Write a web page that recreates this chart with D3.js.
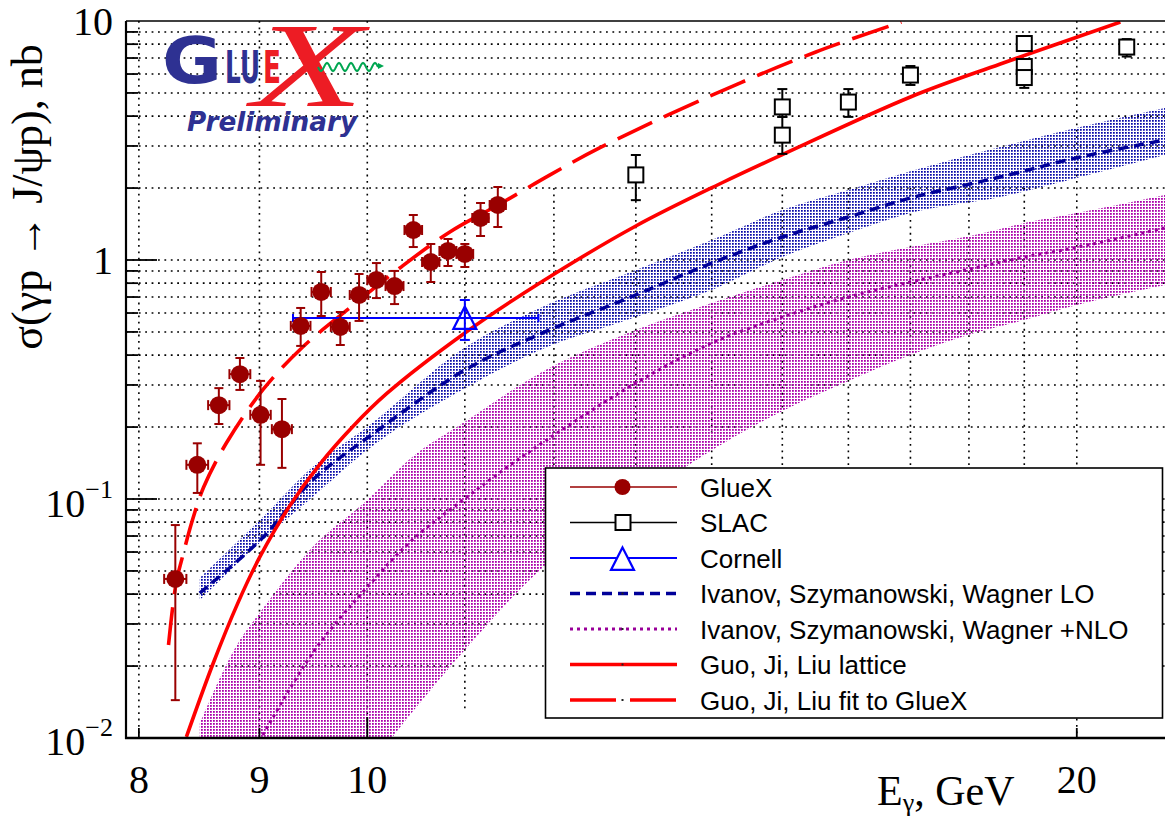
<!DOCTYPE html>
<html>
<head>
<meta charset="utf-8">
<script src="https://cdn.jsdelivr.net/npm/d3@7"></script>
<style>
  body { margin: 0; background: #ffffff; }
</style>
</head>
<body>
<div id="chart"></div>
<script>
// ---- Data (E in GeV, sigma in nb) ----

// GlueX points, with upper / lower ends of the error bars
var glueE     = [8.29, 8.47, 8.65, 8.83, 9.01, 9.20, 9.37, 9.56, 9.74, 9.92, 10.09, 10.27, 10.46, 10.64, 10.82, 11.00, 11.17, 11.36];
var glueSigma = [0.0463, 0.139, 0.247, 0.333, 0.225, 0.196, 0.530, 0.735, 0.525, 0.714, 0.825, 0.778, 1.335, 0.981, 1.091, 1.060, 1.499, 1.699];
var glueHi    = [0.0778, 0.171, 0.291, 0.389, 0.312, 0.262, 0.630, 0.891, 0.606, 0.874, 0.971, 0.900, 1.543, 1.167, 1.224, 1.167, 1.732, 2.02];
var glueLo    = [0.0144, 0.106, 0.206, 0.286, 0.139, 0.135, 0.437, 0.583, 0.441, 0.556, 0.693, 0.654, 1.133, 0.809, 0.944, 0.935, 1.26, 1.374];
var glueBinHalf = [0.09, 0.09, 0.09, 0.09, 0.09, 0.09, 0.09, 0.09, 0.09, 0.09, 0.09, 0.09, 0.09, 0.09, 0.09, 0.09, 0.09, 0.09];

// SLAC points
var slacE     = [13.0, 15.0, 15.0, 16.0, 17.0, 19.0, 19.0, 19.0, 21.0];
var slacSigma = [2.27, 4.37, 3.33, 4.58, 5.94, 8.05, 6.45, 5.80, 7.78];
var slacHi    = [2.75, 5.19, 3.97, 5.19, 6.48, 8.35, 6.93, 6.37, 8.40];
var slacLo    = [1.78, 3.97, 2.78, 3.97, 5.40, 7.80, 6.10, 5.25, 7.10];

// Cornell point
var cornellE     = [11.0];
var cornellSigma = [0.572];
var cornellHi    = [0.68];
var cornellLo    = [0.463];
var cornellEmin  = [9.30];
var cornellEmax  = [11.82];

// Ivanov, Szymanowski, Wagner LO: central curve and band
var loE     = [8.49, 9.03, 9.48, 10.0, 11.0, 11.84, 13.0, 14.0, 15.0, 16.0, 17.0, 18.56, 20.07, 21.8];
var loSigma = [0.0404, 0.069, 0.1201, 0.180, 0.3465, 0.4903, 0.714, 0.971, 1.248, 1.513, 1.817, 2.225, 2.698, 3.178];
var loBandE  = [8.49, 9.03, 9.48, 10.0, 11.0, 11.84, 13.0, 14.0, 15.0, 16.0, 17.0, 18.56, 20.07, 21.8];
var loBandHi = [0.0467, 0.0841, 0.1361, 0.2001, 0.43, 0.6298, 0.9082, 1.212, 1.619, 1.963, 2.35, 2.970, 3.601, 4.325];
var loBandLo = [0.0378, 0.0674, 0.1019, 0.1603, 0.29, 0.4201, 0.5775, 0.7489, 1.029, 1.297, 1.573, 1.835, 2.225, 2.750];

// Ivanov, Szymanowski, Wagner +NLO: central curve and band
var nloE     = [9.0, 9.48, 10.0, 10.45, 10.98, 11.53, 12.04, 13.0, 14.0, 15.0, 16.0, 17.0, 18.1, 19.0, 20.0, 21.8];
var nloSigma = [0.0097, 0.0227, 0.0428, 0.0674, 0.099, 0.1414, 0.189, 0.3058, 0.4494, 0.5775, 0.70, 0.809, 0.926, 1.029, 1.13, 1.361];
var nloBandE  = [8.49, 8.83, 9.0, 9.48, 10.0, 10.45, 10.98, 11.84, 13.0, 14.0, 15.0, 16.0, 17.0, 18.1, 19.0, 20.0, 21.8];
var nloBandHi = [0.0115, 0.0257, 0.0333, 0.063, 0.099, 0.150, 0.208, 0.3367, 0.5095, 0.661, 0.825, 1.0, 1.133, 1.272, 1.428, 1.573, 1.871];
var nloBandLo = [0.0016, 0.0023, 0.0028, 0.0045, 0.0075, 0.01285, 0.0229, 0.0505, 0.098, 0.160, 0.2334, 0.3117, 0.4004, 0.495, 0.561, 0.648, 0.786];

// Guo, Ji, Liu lattice
var latE     = [8.38, 8.60, 8.81, 9.00, 9.27, 9.55, 9.86, 10.19, 11.0, 11.84, 13.0, 14.15, 15.0, 17.0, 18.56, 20.87];
var latSigma = [0.0101, 0.0204, 0.0365, 0.0568, 0.0936, 0.1404, 0.2011, 0.2758, 0.495, 0.803, 1.388, 2.110, 2.761, 4.81, 6.61, 9.90];

// Guo, Ji, Liu fit to GlueX
var fitE     = [8.235, 8.268, 8.301, 8.341, 8.43, 8.523, 8.714, 9.029, 9.389, 9.83, 10.323, 10.84, 11.383, 11.955, 12.553, 13.948, 15.50, 16.85];
var fitSigma = [0.0245, 0.035, 0.0458, 0.0555, 0.0817, 0.1122, 0.1715, 0.2859, 0.4325, 0.630, 0.926, 1.31, 1.715, 2.27, 2.95, 4.81, 7.42, 9.90];

// Axis ticks
var xLabelTicks = [8, 9, 10, 20];
var xMinorGrid  = [11, 12, 13, 14, 15, 16, 17, 18, 19];
var yDecades    = [0.01, 0.1, 1];
var yMultiples  = [2, 3, 4, 5, 6, 7, 8, 9];

var legendLabels = ["GlueX", "SLAC", "Cornell",
  "Ivanov, Szymanowski, Wagner LO", "Ivanov, Szymanowski, Wagner +NLO",
  "Guo, Ji, Liu lattice", "Guo, Ji, Liu fit to GlueX"];

// ---- Layout ----
var svgWidth = 1165, svgHeight = 820;
var frame = {left: 126, right: 1165, top: 21, bottom: 738};

var glueColor = "#990000";
var loColor = "#000099";
var nloColor = "#990099";
var gjlColor = "#ff0000";
var serif = "'Liberation Serif', 'Times New Roman', serif";
var sans = "'Liberation Sans', Arial, sans-serif";

var svg = d3.select("#chart")
            .append("svg")
            .attr("width", svgWidth)
            .attr("height", svgHeight)
            .style("background", "#ffffff");

var x = d3.scaleLog().domain([7.9, 21.8]).range([frame.left, frame.right]);
var y = d3.scaleLog().domain([0.01, 10]).range([frame.bottom, frame.top]);

var defs = svg.append("defs");
defs.append("clipPath").attr("id", "plotClip")
    .append("rect")
    .attr("x", frame.left).attr("y", frame.top)
    .attr("width", frame.right - frame.left).attr("height", frame.bottom - frame.top);

// stippled fills for the theory bands
function stipple(id, color, dot) {
  var p = defs.append("pattern").attr("id", id)
              .attr("patternUnits", "userSpaceOnUse")
              .attr("width", 3).attr("height", 3);
  p.append("rect").attr("x", 0).attr("y", 0).attr("width", dot).attr("height", dot).attr("fill", color);
}
stipple("loDots", "#0808a8", 1.75);
stipple("nloDots", "#aa00aa", 1.8);

// ---- Grid ----
var gridGroup = svg.append("g")
                   .attr("stroke", "#000")
                   .attr("stroke-width", 1.6)
                   .attr("stroke-dasharray", "1.8,4.6");

var yGridValues = [];
yDecades.forEach(function(d) {
  yMultiples.forEach(function(m) { yGridValues.push(d * m); });
  if (d > 0.01) yGridValues.push(d);
});

gridGroup.selectAll(".hgrid")
         .data(yGridValues)
         .enter()
         .append("line")
         .attr("x1", frame.left).attr("x2", frame.right)
         .attr("y1", d => y(d)).attr("y2", d => y(d));

gridGroup.selectAll(".vgrid")
         .data(xLabelTicks)
         .enter()
         .append("line")
         .attr("x1", d => x(d)).attr("x2", d => x(d))
         .attr("y1", frame.top).attr("y2", frame.bottom);

gridGroup.selectAll(".vgridMinor")
         .data(xMinorGrid)
         .enter()
         .append("line")
         .attr("x1", d => x(d)).attr("x2", d => x(d))
         .attr("y1", y(2)).attr("y2", y(0.0131));

// ---- Theory curves ----
var plot = svg.append("g").attr("clip-path", "url(#plotClip)");

var band = d3.area()
             .x(d => x(d[0]))
             .y0(d => y(d[2]))
             .y1(d => y(d[1]))
             .curve(d3.curveMonotoneX);

var curve = d3.line()
              .x(d => x(d[0]))
              .y(d => y(d[1]))
              .curve(d3.curveCatmullRom.alpha(0.5));

plot.append("path")
    .attr("d", band(d3.zip(nloBandE, nloBandHi, nloBandLo)))
    .attr("fill", "url(#nloDots)");

plot.append("path")
    .attr("d", band(d3.zip(loBandE, loBandHi, loBandLo)))
    .attr("fill", "url(#loDots)");

plot.append("path")
    .attr("d", curve(d3.zip(nloE, nloSigma)))
    .attr("fill", "none")
    .attr("stroke", nloColor)
    .attr("stroke-width", 3)
    .attr("stroke-dasharray", "3,4");

plot.append("path")
    .attr("d", curve(d3.zip(loE, loSigma)))
    .attr("fill", "none")
    .attr("stroke", loColor)
    .attr("stroke-width", 3.5)
    .attr("stroke-dasharray", "10,6");

plot.append("path")
    .attr("d", curve(d3.zip(latE, latSigma)))
    .attr("fill", "none")
    .attr("stroke", gjlColor)
    .attr("stroke-width", 3.6);

plot.append("path")
    .attr("d", curve(d3.zip(fitE, fitSigma)))
    .attr("fill", "none")
    .attr("stroke", gjlColor)
    .attr("stroke-width", 3.6)
    .attr("stroke-dasharray", "38,13");

// ---- Data points ----
// error bar with caps; vertical and horizontal parts
function errorBars(group, data, color, width, capV, capH) {
  var g = group.append("g").attr("stroke", color).attr("stroke-width", width).attr("fill", "none");
  data.forEach(function(d) {
    var cx = x(d.E), cy = y(d.s);
    g.append("line").attr("x1", cx).attr("x2", cx).attr("y1", y(d.hi)).attr("y2", y(d.lo));
    g.append("line").attr("x1", cx - capV).attr("x2", cx + capV).attr("y1", y(d.hi)).attr("y2", y(d.hi));
    g.append("line").attr("x1", cx - capV).attr("x2", cx + capV).attr("y1", y(d.lo)).attr("y2", y(d.lo));
    if (d.e0 !== undefined) {
      g.append("line").attr("x1", x(d.e0)).attr("x2", x(d.e1)).attr("y1", cy).attr("y2", cy);
      g.append("line").attr("x1", x(d.e0)).attr("x2", x(d.e0)).attr("y1", cy - capH).attr("y2", cy + capH);
      g.append("line").attr("x1", x(d.e1)).attr("x2", x(d.e1)).attr("y1", cy - capH).attr("y2", cy + capH);
    }
  });
}

var slacData = slacE.map((e, i) => ({E: e, s: slacSigma[i], hi: slacHi[i], lo: slacLo[i]}));
var cornellData = cornellE.map((e, i) => ({E: e, s: cornellSigma[i], hi: cornellHi[i], lo: cornellLo[i],
                                           e0: cornellEmin[i], e1: cornellEmax[i]}));
var glueData = glueE.map((e, i) => ({E: e, s: glueSigma[i], hi: glueHi[i], lo: glueLo[i],
                                     e0: e - glueBinHalf[i], e1: e + glueBinHalf[i]}));

errorBars(plot, slacData, "#000", 2, 5, 0);
plot.selectAll(".slac")
    .data(slacData)
    .enter()
    .append("rect")
    .attr("x", d => x(d.E) - 7.5)
    .attr("y", d => y(d.s) - 7.5)
    .attr("width", 15).attr("height", 15)
    .attr("fill", "#fff")
    .attr("stroke", "#000")
    .attr("stroke-width", 2);

errorBars(plot, cornellData, "#0000ff", 2, 5, 4);
function trianglePath(cx, cy, h) {
  return `M${cx},${cy - h} L${cx + h},${cy + h * 0.95} L${cx - h},${cy + h * 0.95} Z`;
}
plot.selectAll(".cornell")
    .data(cornellData)
    .enter()
    .append("path")
    .attr("d", d => trianglePath(x(d.E), y(d.s), 11.5))
    .attr("fill", "none")
    .attr("stroke", "#0000ff")
    .attr("stroke-width", 2.2);

errorBars(plot, glueData, glueColor, 2, 4.5, 5);
plot.selectAll(".glue")
    .data(glueData)
    .enter()
    .append("circle")
    .attr("cx", d => x(d.E))
    .attr("cy", d => y(d.s))
    .attr("r", 9)
    .attr("fill", glueColor);

// ---- Legend ----
var legend = svg.append("g").attr("transform", "translate(545.5, 468)");
legend.append("rect")
      .attr("width", 617).attr("height", 250)
      .attr("fill", "#fff")
      .attr("stroke", "#000")
      .attr("stroke-width", 1.6);

var rowY = i => 19 + i * 35.5;
var entryStyle = [
  {color: glueColor, width: 1.6, dash: null},
  {color: "#000", width: 1.6, dash: null},
  {color: "#0000ff", width: 1.8, dash: null},
  {color: loColor, width: 3.5, dash: "10,6"},
  {color: nloColor, width: 3, dash: "3,4"},
  {color: gjlColor, width: 3.6, dash: null},
  {color: gjlColor, width: 3.6, dash: "46,14"}
];

legend.selectAll(".legLine")
      .data(entryStyle)
      .enter()
      .append("line")
      .attr("x1", 24.5).attr("x2", 131.5)
      .attr("y1", (d, i) => rowY(i)).attr("y2", (d, i) => rowY(i))
      .attr("stroke", d => d.color)
      .attr("stroke-width", d => d.width)
      .attr("stroke-dasharray", d => d.dash);

legend.append("circle").attr("cx", 77).attr("cy", rowY(0)).attr("r", 8).attr("fill", glueColor);
legend.append("rect").attr("x", 70).attr("y", rowY(1) - 7.5).attr("width", 15).attr("height", 15)
      .attr("fill", "#fff").attr("stroke", "#000").attr("stroke-width", 2);
legend.append("path").attr("d", trianglePath(77, rowY(2) + 1, 11.5))
      .attr("fill", "#fff").attr("stroke", "#0000ff").attr("stroke-width", 2.2);
[3, 4, 5, 6].forEach(function(i) {
  legend.append("rect").attr("x", 76).attr("y", rowY(i) - 1).attr("width", 2).attr("height", 2).attr("fill", "#222");
});

legend.selectAll(".legText")
      .data(legendLabels)
      .enter()
      .append("text")
      .attr("x", 154.5)
      .attr("y", (d, i) => rowY(i) + 9.5)
      .attr("font-family", sans)
      .attr("font-size", 26)
      .attr("fill", "#000")
      .text(d => d);

// ---- Axes (frame, ticks, labels) ----
var axisGroup = svg.append("g").attr("stroke", "#000").attr("fill", "none");

axisGroup.append("line").attr("x1", frame.left).attr("x2", frame.right)
         .attr("y1", frame.top).attr("y2", frame.top).attr("stroke-width", 1.6);
axisGroup.append("line").attr("x1", frame.left).attr("x2", frame.left)
         .attr("y1", frame.top).attr("y2", frame.bottom + 1).attr("stroke-width", 2.2);
axisGroup.append("line").attr("x1", frame.left - 1).attr("x2", frame.right)
         .attr("y1", frame.bottom).attr("y2", frame.bottom).attr("stroke-width", 2.6);

// y ticks: long at decades, short at 2..9
axisGroup.selectAll(".yMajor")
         .data([0.1, 1])
         .enter()
         .append("line")
         .attr("x1", frame.left).attr("x2", frame.left + 31)
         .attr("y1", d => y(d)).attr("y2", d => y(d))
         .attr("stroke-width", 1.8);
var yMinorTicks = [];
yDecades.forEach(d => yMultiples.forEach(m => yMinorTicks.push(d * m)));
axisGroup.selectAll(".yMinor")
         .data(yMinorTicks)
         .enter()
         .append("line")
         .attr("x1", frame.left).attr("x2", frame.left + 12)
         .attr("y1", d => y(d)).attr("y2", d => y(d))
         .attr("stroke-width", 1.8);

// x ticks
axisGroup.selectAll(".xTick")
         .data(xLabelTicks)
         .enter()
         .append("line")
         .attr("x1", d => x(d)).attr("x2", d => x(d))
         .attr("y1", frame.bottom).attr("y2", d => frame.bottom - (d === 10 ? 21 : 10))
         .attr("stroke-width", 1.8);

// tick labels
svg.selectAll(".xLabel")
   .data(xLabelTicks)
   .enter()
   .append("text")
   .attr("x", d => x(d))
   .attr("y", 793)
   .attr("text-anchor", "middle")
   .attr("font-family", serif)
   .attr("font-size", 40)
   .text(d => d);

var yLabelDefs = [
  {v: 10, base: "10", exp: null, dy: 14},
  {v: 1, base: "1", exp: null, dy: 14},
  {v: 0.1, base: "10", exp: "\u22121", dy: 18},
  {v: 0.01, base: "10", exp: "\u22122", dy: 17}
];
yLabelDefs.forEach(function(d) {
  var t = svg.append("text")
             .attr("x", 113)
             .attr("y", y(d.v) + d.dy)
             .attr("text-anchor", "end")
             .attr("font-family", serif)
             .attr("font-size", 40)
             .text(d.base);
  if (d.exp) {
    t.append("tspan").attr("dy", -19).attr("font-size", 26).text(d.exp);
  }
});

// axis titles
var xTitle = svg.append("text")
                .attr("x", 877)
                .attr("y", 805)
                .attr("font-family", serif)
                .attr("font-size", 42);
xTitle.append("tspan").text("E");
xTitle.append("tspan").attr("font-size", 26).attr("dy", 6).text("\u03b3");
xTitle.append("tspan").attr("dy", -6).text(", GeV");

svg.append("text")
   .attr("transform", "translate(42, 197) rotate(-90)")
   .attr("text-anchor", "middle")
   .attr("font-family", serif)
   .attr("font-size", 44)
   .text("\u03c3(\u03b3p \u2192 J/\u03c8p), nb");

// ---- GlueX Preliminary logo ----
var logo = svg.append("g");
var logoBlue = "#2e3192", logoRed = "#ed1c24";
logo.append("text").attr("x", 162).attr("y", 83)
    .attr("font-family", "'DejaVu Sans', sans-serif").attr("font-weight", "bold")
    .attr("font-size", 64).attr("fill", logoBlue)
    .attr("textLength", 60).attr("lengthAdjust", "spacingAndGlyphs")
    .text("G");
logo.append("text").attr("x", 225).attr("y", 83)
    .attr("font-family", "'DejaVu Sans', sans-serif").attr("font-weight", "bold")
    .attr("font-size", 45).attr("fill", logoBlue)
    .attr("textLength", 35).attr("lengthAdjust", "spacingAndGlyphs")
    .text("LU");
logo.append("text").attr("x", 263).attr("y", 83)
    .attr("font-family", "'DejaVu Sans', sans-serif").attr("font-weight", "bold")
    .attr("font-size", 45).attr("fill", logoRed)
    .attr("textLength", 18).attr("lengthAdjust", "spacingAndGlyphs")
    .text("E");
logo.append("text").attr("x", 252).attr("y", 106)
    .attr("font-family", serif).attr("font-style", "italic")
    .attr("font-size", 120).attr("fill", logoRed)
    .attr("textLength", 112).attr("lengthAdjust", "spacingAndGlyphs")
    .text("X");

// photon wiggle with arrowhead
var wave = d3.range(0, 61, 1).map(t => [318 + t, 67 + 4 * Math.sin(t / 60 * 2 * Math.PI * 5)]);
logo.append("path")
    .attr("d", d3.line()(wave))
    .attr("fill", "none")
    .attr("stroke", "#00a651")
    .attr("stroke-width", 2);
logo.append("path")
    .attr("d", "M378,63 L384,66 L378,69 Z")
    .attr("fill", "#00a651");

logo.append("text").attr("x", 187).attr("y", 131)
    .attr("font-family", "'DejaVu Sans', sans-serif").attr("font-weight", "bold")
    .attr("font-style", "italic").attr("font-size", 27).attr("fill", logoBlue)
    .attr("textLength", 170).attr("lengthAdjust", "spacingAndGlyphs")
    .text("Preliminary");
</script>
</body>
</html>
